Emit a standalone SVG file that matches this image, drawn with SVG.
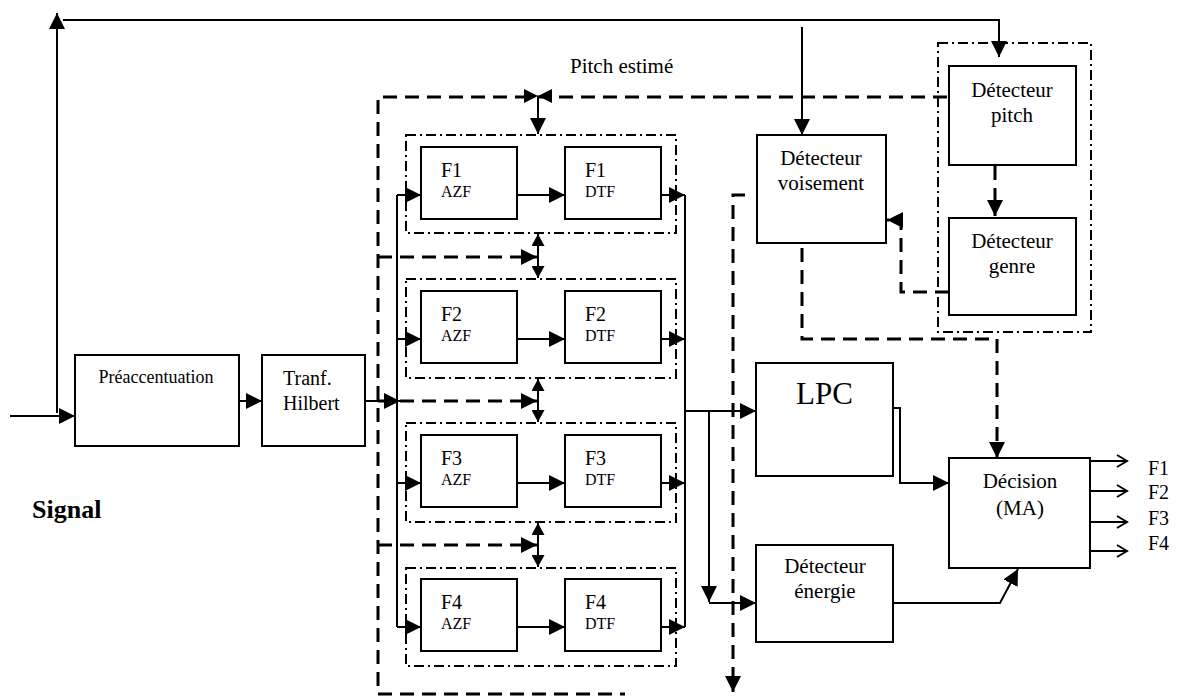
<svg xmlns="http://www.w3.org/2000/svg" width="1179" height="697" viewBox="0 0 1179 697">
<style>
.box{fill:#fff;stroke:#000;stroke-width:2}
.grp{fill:none;stroke:#000;stroke-width:2;stroke-dasharray:10 4 2 4}
.ln{fill:none;stroke:#000;stroke-width:2}
.dl{fill:none;stroke:#000;stroke-width:3;stroke-dasharray:14 8}
.t{font-family:"Liberation Serif","Times New Roman",serif;fill:#000}
.m{text-anchor:middle}
</style>
<defs>
<marker id="a" markerUnits="userSpaceOnUse" markerWidth="16" markerHeight="16" refX="16" refY="8" orient="auto"><path d="M0,0 L16,8 L0,16 z" fill="#000" stroke="none"/></marker>
<marker id="ab" markerUnits="userSpaceOnUse" markerWidth="12" markerHeight="13" refX="12" refY="6.5" orient="auto-start-reverse"><path d="M0,0 L12,6.5 L0,13 z" fill="#000" stroke="none"/></marker>
<marker id="o" markerUnits="userSpaceOnUse" markerWidth="14" markerHeight="16" refX="12" refY="8" orient="auto"><path d="M2,2 L12,8 L2,14" fill="none" stroke="#000" stroke-width="2"/></marker>
<linearGradient id="fade" gradientUnits="userSpaceOnUse" x1="378" y1="0" x2="625" y2="0"><stop offset="0" stop-color="#000"/><stop offset="1" stop-color="#ddd"/></linearGradient>
</defs>

<g id="connectors">
<path class="ln" d="M10,416 H75" marker-end="url(#a)"/>
<path class="ln" d="M57,413 V13" marker-end="url(#a)"/>
<path class="ln" d="M63,20 H999 V57" marker-end="url(#a)"/>
<path class="ln" d="M802,27 V135" marker-end="url(#a)"/>
<path class="ln" d="M239,401 H262" marker-end="url(#a)"/>
<path class="ln" d="M362,401 H400" marker-end="url(#a)"/>
<path class="ln" d="M397,195 V627"/>
<path class="ln" d="M397,195 H421" marker-end="url(#a)"/>
<path class="ln" d="M397,339 H421" marker-end="url(#a)"/>
<path class="ln" d="M397,483 H421" marker-end="url(#a)"/>
<path class="ln" d="M397,627 H421" marker-end="url(#a)"/>
<path class="ln" d="M517,195 H565" marker-end="url(#a)"/>
<path class="ln" d="M517,339 H565" marker-end="url(#a)"/>
<path class="ln" d="M517,483 H565" marker-end="url(#a)"/>
<path class="ln" d="M517,627 H565" marker-end="url(#a)"/>
<path class="ln" d="M661,195 H685" marker-end="url(#a)"/>
<path class="ln" d="M661,339 H685" marker-end="url(#a)"/>
<path class="ln" d="M661,483 H685" marker-end="url(#a)"/>
<path class="ln" d="M661,627 H685" marker-end="url(#a)"/>
<path class="ln" d="M685,195 V627"/>
<path class="ln" d="M685,411 H756" marker-end="url(#a)"/>
<path class="ln" d="M709,411 V602" marker-end="url(#a)"/>
<path class="ln" d="M709,603 H756" marker-end="url(#a)"/>
<path class="ln" d="M893,408 H900 V483 H949" marker-end="url(#a)"/>
<path class="ln" d="M893,603 H1000 L1018,569" marker-end="url(#a)"/>
<path class="ln" d="M1090,461 H1127" marker-end="url(#o)"/>
<path class="ln" d="M1090,491 H1127" marker-end="url(#o)"/>
<path class="ln" d="M1090,522 H1127" marker-end="url(#o)"/>
<path class="ln" d="M1090,551 H1127" marker-end="url(#o)"/>
<path class="dl" d="M947,97 H378 V694"/>
<path class="dl" d="M378,694 H625" stroke="url(#fade)"/>
<polygon points="524,89 538,96 524,103" fill="#000"/>
<polygon points="552,89 538,96 552,103" fill="#000"/>
<path class="ln" d="M538,96 V134" marker-end="url(#a)"/>
<path class="dl" d="M378,257 H537" marker-end="url(#a)"/>
<path class="dl" d="M378,401 H537" marker-end="url(#a)"/>
<path class="dl" d="M378,545 H537" marker-end="url(#a)"/>
<path class="ln" d="M538,234 V278" marker-start="url(#ab)" marker-end="url(#ab)"/>
<path class="ln" d="M538,379 V422" marker-start="url(#ab)" marker-end="url(#ab)"/>
<path class="ln" d="M538,523 V567" marker-start="url(#ab)" marker-end="url(#ab)"/>
<path class="dl" d="M995,166 V216" marker-end="url(#a)"/>
<path class="dl" d="M949,292 H901 V220 H887" marker-end="url(#a)"/>
<path class="dl" d="M802,248 V339 H997 V458" marker-end="url(#a)"/>
<path class="dl" d="M745,195 H733 V692" marker-end="url(#a)"/>
</g>

<g id="preaccentuation"><rect class="box" x="75" y="355" width="164" height="91"/><text class="t m" x="156" y="383" font-size="18">Préaccentuation</text></g>
<g id="hilbert"><rect class="box" x="262" y="355" width="103" height="91"/><text class="t" x="283" y="385" font-size="20">Tranf.</text><text class="t" x="283" y="410" font-size="20">Hilbert</text></g>

<g id="groupe1"><rect class="grp" x="406" y="135" width="270" height="98"/></g>
<g id="groupe2"><rect class="grp" x="406" y="279" width="270" height="99"/></g>
<g id="groupe3"><rect class="grp" x="406" y="423" width="270" height="99"/></g>
<g id="groupe4"><rect class="grp" x="406" y="568" width="270" height="98"/></g>

<g id="f1azf"><rect class="box" x="421" y="147" width="96" height="72"/><text class="t" x="441" y="177" font-size="20">F1</text><text class="t" x="441" y="197" font-size="16">AZF</text></g>
<g id="f1dtf"><rect class="box" x="565" y="147" width="96" height="72"/><text class="t" x="585" y="177" font-size="20">F1</text><text class="t" x="585" y="197" font-size="16">DTF</text></g>
<g id="f2azf"><rect class="box" x="421" y="291" width="96" height="72"/><text class="t" x="441" y="321" font-size="20">F2</text><text class="t" x="441" y="341" font-size="16">AZF</text></g>
<g id="f2dtf"><rect class="box" x="565" y="291" width="96" height="72"/><text class="t" x="585" y="321" font-size="20">F2</text><text class="t" x="585" y="341" font-size="16">DTF</text></g>
<g id="f3azf"><rect class="box" x="421" y="435" width="96" height="72"/><text class="t" x="441" y="465" font-size="20">F3</text><text class="t" x="441" y="485" font-size="16">AZF</text></g>
<g id="f3dtf"><rect class="box" x="565" y="435" width="96" height="72"/><text class="t" x="585" y="465" font-size="20">F3</text><text class="t" x="585" y="485" font-size="16">DTF</text></g>
<g id="f4azf"><rect class="box" x="421" y="579" width="96" height="72"/><text class="t" x="441" y="609" font-size="20">F4</text><text class="t" x="441" y="629" font-size="16">AZF</text></g>
<g id="f4dtf"><rect class="box" x="565" y="579" width="96" height="72"/><text class="t" x="585" y="609" font-size="20">F4</text><text class="t" x="585" y="629" font-size="16">DTF</text></g>

<g id="voisement"><rect class="box" x="757" y="135" width="129" height="108"/><text class="t m" x="821" y="165" font-size="21">Détecteur</text><text class="t m" x="821" y="190" font-size="21">voisement</text></g>
<g id="groupe-pitch"><rect class="grp" x="938" y="43" width="153" height="289"/></g>
<g id="pitch"><rect class="box" x="949" y="66" width="127" height="99"/><text class="t m" x="1012" y="97" font-size="21">Détecteur</text><text class="t m" x="1012" y="122" font-size="21">pitch</text></g>
<g id="genre"><rect class="box" x="949" y="218" width="127" height="97"/><text class="t m" x="1012" y="248" font-size="21">Détecteur</text><text class="t m" x="1012" y="273" font-size="21">genre</text></g>
<g id="lpc"><rect class="box" x="756" y="363" width="137" height="113"/><text class="t" x="796" y="404" font-size="31">LPC</text></g>
<g id="energie"><rect class="box" x="756" y="545" width="137" height="97"/><text class="t m" x="825" y="573" font-size="21">Détecteur</text><text class="t m" x="825" y="598" font-size="21">énergie</text></g>
<g id="decision"><rect class="box" x="949" y="458" width="141" height="110"/><text class="t m" x="1020" y="488" font-size="21">Décision</text><text class="t m" x="1020" y="515" font-size="21">(MA)</text></g>

<g id="labels">
<text class="t" x="570" y="73" font-size="21">Pitch estimé</text>
<text class="t" x="1148" y="475" font-size="20">F1</text>
<text class="t" x="1148" y="499" font-size="20">F2</text>
<text class="t" x="1148" y="525" font-size="20">F3</text>
<text class="t" x="1148" y="550" font-size="20">F4</text>
<text class="t" x="32" y="518" font-size="26" font-weight="bold">Signal</text>
</g>
</svg>
